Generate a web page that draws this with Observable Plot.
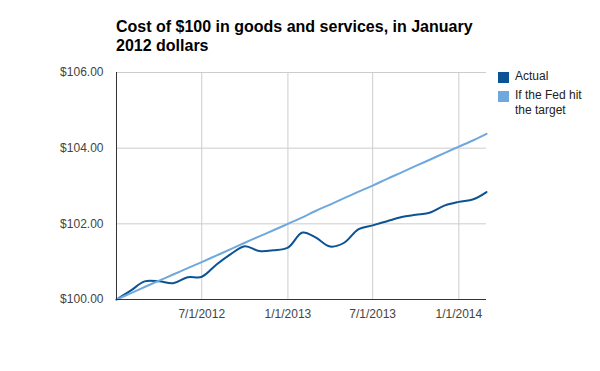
<!DOCTYPE html>
<html>
<head>
<meta charset="utf-8">
<script src="https://cdn.jsdelivr.net/npm/d3@7"></script>
<script src="https://cdn.jsdelivr.net/npm/@observablehq/plot@0.6"></script>
<style>
  html, body { margin: 0; padding: 0; background: #fff; }
  #wrap { position: relative; width: 600px; height: 371px; font-family: Arial, "Liberation Sans", sans-serif; }
  #title { position: absolute; left: 116px; top: 16.5px; font-size: 16px; line-height: 19.5px; font-weight: bold; color: #000; white-space: nowrap; }
  .lg { position: absolute; font-size: 12px; line-height: 15px; color: #222; white-space: nowrap; }
  .sw { position: absolute; width: 11px; height: 11px; }
  svg { position: absolute; left: 0; top: 0; }
</style>
</head>
<body>
<div id="wrap"></div>
<script>
const months = ["2012-01","2012-02","2012-03","2012-04","2012-05","2012-06","2012-07","2012-08","2012-09","2012-10","2012-11","2012-12",
  "2013-01","2013-02","2013-03","2013-04","2013-05","2013-06","2013-07","2013-08","2013-09","2013-10","2013-11","2013-12",
  "2014-01","2014-02","2014-03"];
const actual = [100.00, 100.24, 100.48, 100.48, 100.43, 100.59, 100.60, 100.92, 101.20, 101.41, 101.28, 101.30,
  101.37, 101.77, 101.64, 101.40, 101.50, 101.86, 101.96, 102.07, 102.18, 102.24, 102.30, 102.48,
  102.58, 102.65, 102.84];
const target = [100.00, 100.17, 100.33, 100.50, 100.66, 100.83, 100.99, 101.16, 101.33, 101.50, 101.67, 101.83,
  102.00, 102.17, 102.34, 102.51, 102.68, 102.85, 103.01, 103.19, 103.36, 103.53, 103.70, 103.87,
  104.04, 104.21, 104.38];
const seriesNames = ["Actual", "If the Fed hit the target"];
const seriesColors = ["#0b5394", "#6fa8dc"];
const yTicks = [100, 102, 104, 106];
const xTicks = ["2012-07-01", "2013-01-01", "2013-07-01", "2014-01-01"];

const parse = s => new Date(s.length === 7 ? s + "-01T00:00:00Z" : s + "T00:00:00Z");
const rows = [];
months.forEach((m, i) => {
  rows.push({date: parse(m), value: actual[i], series: seriesNames[0]});
  rows.push({date: parse(m), value: target[i], series: seriesNames[1]});
});
const xDomain = [parse(months[0]), parse(months[months.length - 1])];
const fmtDate = d => `${d.getUTCMonth() + 1}/${d.getUTCDate()}/${d.getUTCFullYear()}`;

const chart = Plot.plot({
  width: 600,
  height: 371,
  marginLeft: 116,
  marginRight: 114,
  marginTop: 72,
  marginBottom: 72,
  style: {fontFamily: "Arial, 'Liberation Sans', sans-serif", fontSize: "12px", background: "transparent", overflow: "visible"},
  x: {type: "utc", domain: xDomain},
  y: {domain: [100, 106]},
  color: {domain: seriesNames, range: seriesColors},
  marks: [
    Plot.gridY(yTicks, {stroke: "#cccccc", strokeOpacity: 1}),
    Plot.gridX(xTicks.map(parse), {stroke: "#cccccc", strokeOpacity: 1}),
    Plot.axisY(yTicks, {tickSize: 0, tickPadding: 13, tickFormat: d => "$" + d.toFixed(2), fill: "#444", label: null, fontSize: 12}),
    Plot.axisX(xTicks.map(parse), {tickSize: 0, tickPadding: 10, tickFormat: fmtDate, fill: "#444", label: null, fontSize: 12}),
    Plot.line(rows, {x: "date", y: "value", z: "series", stroke: "series", strokeWidth: 2, curve: "catmull-rom"}),
    Plot.ruleX([xDomain[0]], {stroke: "#333"}),
    Plot.ruleY([100], {stroke: "#333"})
  ]
});

const wrap = document.getElementById("wrap");
wrap.appendChild(chart);

const title = document.createElement("div");
title.id = "title";
title.innerHTML = "Cost of $100 in goods and services, in January<br>2012 dollars";
wrap.appendChild(title);

// legend
const lgTops = [69, 88.3];
const swTops = [72, 91];
const labels = ["Actual", "If the Fed hit<br>the target"];
seriesNames.forEach((n, i) => {
  const sw = document.createElement("div");
  sw.className = "sw";
  sw.style.left = "498px";
  sw.style.top = swTops[i] + "px";
  sw.style.background = seriesColors[i];
  wrap.appendChild(sw);
  const t = document.createElement("div");
  t.className = "lg";
  t.style.left = "515px";
  t.style.top = lgTops[i] + "px";
  t.innerHTML = labels[i];
  wrap.appendChild(t);
});
</script>
</body>
</html>
